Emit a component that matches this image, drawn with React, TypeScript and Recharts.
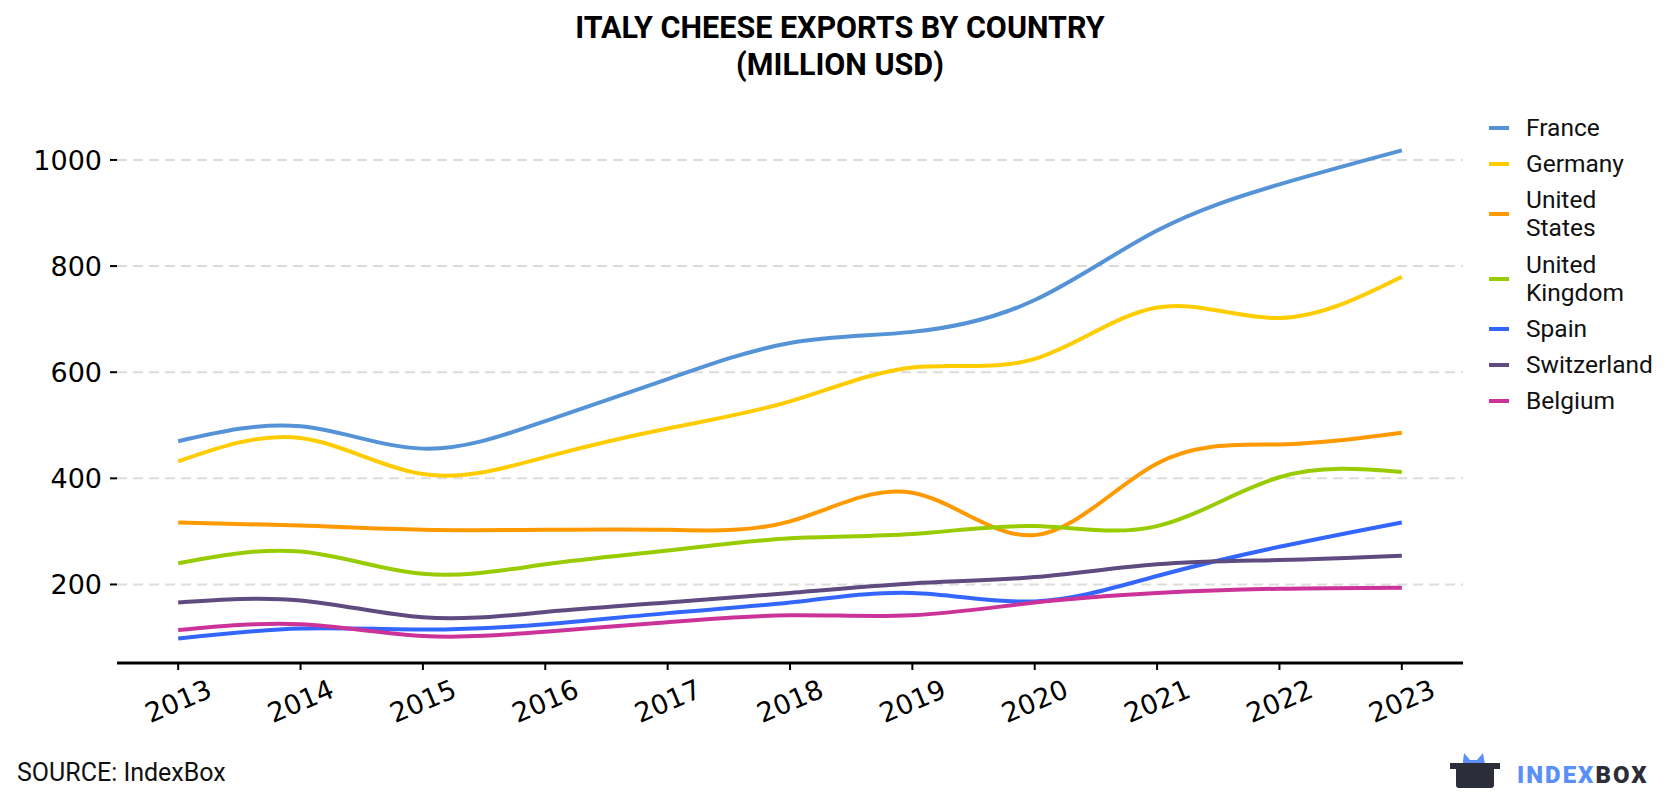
import React from 'react';
import { LineChart, Line, XAxis, YAxis, ReferenceLine } from 'recharts';

const years = [2013, 2014, 2015, 2016, 2017, 2018, 2019, 2020, 2021, 2022, 2023];
const france = [470, 498, 456, 508, 587, 655, 676, 736, 867, 954, 1018];
const germany = [432, 476, 408, 440, 494, 545, 609, 625, 722, 702, 780];
const unitedStates = [317, 311, 303, 303, 303, 319, 373, 293, 428, 464, 486];
const unitedKingdom = [240, 262, 220, 238, 264, 287, 295, 310, 310, 402, 412];
const spain = [98, 117, 115, 125, 146, 166, 184, 168, 216, 271, 317];
const switzerland = [166, 170, 138, 148, 166, 184, 202, 214, 238, 246, 254];
const belgium = [114, 125, 103, 111, 129, 142, 142, 166, 184, 192, 194];
const yTicks = [200, 400, 600, 800, 1000];

const series = [
  { key: 'france', name: 'France', color: '#5593D7', values: france },
  { key: 'germany', name: 'Germany', color: '#FFCC00', values: germany },
  { key: 'us', name: 'United States', color: '#FF9900', values: unitedStates },
  { key: 'uk', name: 'United Kingdom', color: '#99CC00', values: unitedKingdom },
  { key: 'spain', name: 'Spain', color: '#3366FF', values: spain },
  { key: 'switzerland', name: 'Switzerland', color: '#5F4B7F', values: switzerland },
  { key: 'belgium', name: 'Belgium', color: '#CC3399', values: belgium },
];

const data = years.map((year, i) => {
  const row: Record<string, number> = { year };
  series.forEach(s => {
    row[s.key] = s.values[i];
  });
  return row;
});

const tickFont = '"DejaVu Sans", sans-serif';

const YearTick = (props: any) => {
  const { x, y, payload } = props;
  return (
    <g transform={`translate(${x},${y + 31})`}>
      <text
        transform="rotate(-23)"
        textAnchor="middle"
        dominantBaseline="central"
        fontSize={27}
        fontFamily={tickFont}
        fill="#000"
      >
        {payload.value}
      </text>
    </g>
  );
};

const Legend = () => (
  <div style={{ position: 'absolute', left: 1489, top: 114, fontFamily: 'Roboto', fontSize: 24.5, color: '#111' }}>
    {series.map(s => (
      <div key={s.key} style={{ display: 'flex', alignItems: 'center', marginBottom: 8.2 }}>
        <span style={{ width: 20, height: 4, background: s.color, marginRight: 17, flexShrink: 0 }} />
        <span style={{ width: 140, lineHeight: '28px' }}>{s.name}</span>
      </div>
    ))}
  </div>
);

const Logo = () => (
  <svg style={{ position: 'absolute', left: 1440, top: 745 }} width={240} height={50}>
    <polygon points="22,25 24,8 30,15 37,15 43,8 46,25" fill="#5B8FF9" />
    <path d="M10,18 L60,18 L60,24 L54,24 L54,40 Q54,43 51,43 L19,43 Q16,43 16,40 L16,24 L10,24 Z" fill="#2B2D38" />
    <text x={77} y={38} fontFamily="Roboto" fontWeight={900} fontSize={24} letterSpacing={2}>
      <tspan fill="#5B8FF9">INDEX</tspan>
      <tspan fill="#2B2D38">BOX</tspan>
    </text>
  </svg>
);

export default function App() {
  return (
    <div style={{ position: 'absolute', left: 0, top: 0, width: 1680, height: 800, background: '#fff', fontFamily: 'Roboto' }}>
      <div
        style={{
          position: 'absolute',
          left: 0,
          top: 9,
          width: 1680,
          textAlign: 'center',
          fontFamily: 'Roboto',
          fontWeight: 700,
          fontSize: 30.5,
          lineHeight: '37px',
          color: '#000',
        }}
      >
        ITALY CHEESE EXPORTS BY COUNTRY
        <br />
        (MILLION USD)
      </div>
      <LineChart width={1680} height={800} data={data} margin={{ top: 126, right: 217, bottom: 77, left: 0 }}>
        <XAxis
          dataKey="year"
          type="number"
          domain={[2012.5, 2023.5]}
          ticks={years}
          allowDataOverflow
          height={60}
          axisLine={{ stroke: '#000', strokeWidth: 3 }}
          tickLine={{ stroke: '#000', strokeWidth: 2 }}
          tickSize={7}
          tickMargin={0}
          tick={<YearTick />}
          interval={0}
        />
        <YAxis
          type="number"
          domain={[52, 1064]}
          ticks={yTicks}
          allowDataOverflow
          width={117}
          axisLine={false}
          tickLine={{ stroke: '#000', strokeWidth: 2 }}
          tickSize={7}
          tickMargin={8}
          tick={{ fontSize: 27, fontFamily: tickFont, fill: '#000' }}
        />
        {yTicks.map(t => (
          <ReferenceLine key={t} y={t} stroke="#dcdcdc" strokeWidth={2} strokeDasharray="10 6" />
        ))}
        {series.map(s => (
          <Line
            key={s.key}
            dataKey={s.key}
            name={s.name}
            type="natural"
            stroke={s.color}
            strokeWidth={4}
            dot={false}
            activeDot={false}
            isAnimationActive={false}
          />
        ))}
      </LineChart>
      <Legend />
      <div style={{ position: 'absolute', left: 17, top: 758, fontFamily: 'Roboto', fontSize: 25, color: '#111' }}>
        SOURCE: IndexBox
      </div>
      <Logo />
    </div>
  );
}
